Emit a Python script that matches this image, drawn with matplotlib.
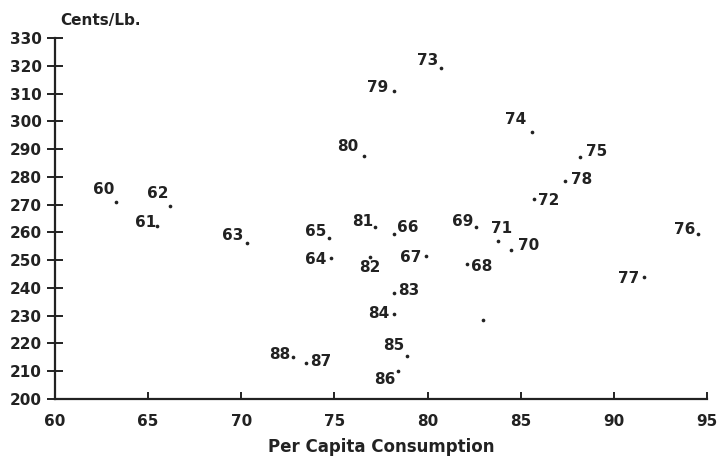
import matplotlib.pyplot as plt

# per capita consumption (x), price in cents per lb (y), year label
consumo = [63.3, 65.5, 66.2, 70.3, 74.8, 74.7, 78.2, 79.9, 82.1, 82.6,
           84.5, 83.8, 85.7, 80.7, 85.6, 88.2, 94.5, 91.6, 87.4, 78.2,
           76.6, 77.2, 76.9, 78.2, 78.2, 78.9, 78.4, 73.5, 72.8, 83.0]
cijena = [270.9, 262.3, 269.5, 256.2, 250.8, 258.0, 259.4, 251.5, 248.6, 261.9,
          253.7, 256.9, 272.0, 319.2, 296.1, 287.1, 259.4, 243.9, 278.5, 310.9,
          287.5, 261.9, 251.1, 238.2, 230.6, 215.5, 210.1, 213.0, 215.1, 228.4]
godine = ["60", "61", "62", "63", "64", "65", "66", "67", "68", "69",
          "70", "71", "72", "73", "74", "75", "76", "77", "78", "79",
          "80", "81", "82", "83", "84", "85", "86", "87", "88", ""]

# where each year label sits relative to its dot (pixels: right, up)
pomaci = [(-13, 13), (-12, 4), (-13, 13), (-14, 7), (-15, -2), (-13, 6), (14, 7), (-15, -2),
          (15, -2), (-13, 6), (17, 4), (3, 13), (15, -1), (-13, 8), (-16, 13), (16, 6),
          (-13, 5), (-15, -1), (16, 2), (-16, 4), (-16, 10), (-13, 6), (0, -10), (15, 2),
          (-15, 1), (-13, 10), (-13, -9), (14, 1), (-14, 3), (0, 0)]

boja = "#222222"
plt.rcParams["font.family"] = "DejaVu Sans"
plt.rcParams["font.weight"] = "bold"

fig = plt.figure(figsize=(7.18, 4.61), dpi=100)
ax = fig.add_axes([0.0766, 0.1345, 0.908, 0.783])

ax.scatter(consumo, cijena, s=7, color=boja, linewidths=0, zorder=3)
for x, y, txt, (dx, dy) in zip(consumo, cijena, godine, pomaci):
    if txt:
        ax.annotate(txt, (x, y), xytext=(dx, dy), textcoords="offset pixels",
                    ha="center", va="center", fontsize=11, fontweight="bold", color=boja)

ax.set_xlim(60, 95)
ax.set_ylim(200, 330)
ax.set_xticks(range(60, 96, 5))
ax.set_yticks(range(200, 331, 10))

for s in ["top", "right"]:
    ax.spines[s].set_visible(False)
for s in ["left", "bottom"]:
    ax.spines[s].set_linewidth(1.6)
    ax.spines[s].set_color(boja)

ax.tick_params(axis="y", direction="inout", length=11, width=1.4, pad=4,
               labelsize=11, colors=boja)
ax.tick_params(axis="x", direction="in", length=5, width=1.4, pad=11,
               labelsize=11, colors=boja)
for lab in ax.get_xticklabels() + ax.get_yticklabels():
    lab.set_fontweight("bold")

ax.set_xlabel("Per Capita Consumption", fontsize=12, fontweight="bold", color=boja, labelpad=6)
fig.text(0.084, 0.955, "Cents/Lb.", fontsize=11, fontweight="bold", color=boja,
         ha="left", va="center")

fig.savefig("out.png", dpi=100)
